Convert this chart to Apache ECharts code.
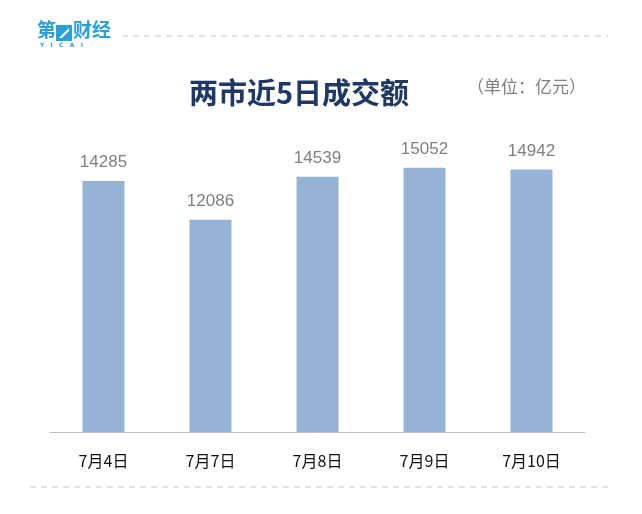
<!DOCTYPE html>
<html>
<head>
<meta charset="utf-8">
<script src="https://cdn.jsdelivr.net/npm/echarts@6/dist/echarts.min.js"></script>
<style>html,body{margin:0;padding:0;background:#fff;}#c{width:642px;height:514px;}</style>
</head>
<body>
<div id="c"></div>
<script>
const categories = ['7月4日', '7月7日', '7月8日', '7月9日', '7月10日'];
const values = [14285, 12086, 14539, 15052, 14942];
const titleText = '两市近5日成交额';
const unitText = '（单位：亿元）';

const chart = echarts.init(document.getElementById('c'));
const logoBlue = '#2a9fd8';
chart.setOption({
  backgroundColor: '#fff',
  animation: false,
  grid: { left: 50, right: 57, top: 151, bottom: 82 },
  xAxis: {
    type: 'category',
    data: categories,
    axisLine: { show: true, lineStyle: { color: '#bfbfbf', width: 1 } },
    axisTick: { show: false },
    axisLabel: { color: '#111', fontSize: 16, margin: 21, fontFamily: 'Noto Sans CJK SC' }
  },
  yAxis: {
    type: 'value', min: 0, max: 16000, interval: 4000,
    show: false, splitLine: { show: false }
  },
  series: [{
    type: 'bar',
    data: values,
    barWidth: 42,
    itemStyle: { color: '#95b3d7' },
    label: { show: true, position: 'top', distance: 10, color: '#7f7f7f', fontSize: 17, fontFamily: 'Liberation Sans' }
  }],
  graphic: [
    { type: 'text', left: 189, top: 78, style: { text: titleText, fill: '#1f3864', font: 'bold 29px "Noto Sans CJK SC"' } },
    { type: 'text', left: 467, top: 78, style: { text: unitText, fill: '#7f7f7f', font: '17px "Noto Sans CJK SC"' } },
    { type: 'text', left: 37, top: 20, style: { text: '第', fill: logoBlue, font: 'bold 19px "Noto Sans CJK SC"' } },
    { type: 'rect', shape: { x: 56, y: 25, width: 16, height: 16 }, style: { fill: logoBlue } },
    { type: 'polygon', shape: { points: [[59, 38], [69, 28], [69, 31], [62, 38]] }, style: { fill: '#fff' } },
    { type: 'text', left: 73, top: 20, style: { text: '财经', fill: logoBlue, font: 'bold 19px "Noto Sans CJK SC"' } },
    { type: 'text', left: 40, top: 42, style: { text: 'Y   I   C   A   I', fill: logoBlue, font: 'bold 6px "DejaVu Sans"' } },
    { type: 'line', shape: { x1: 122, y1: 36, x2: 608, y2: 36 }, style: { stroke: '#c8c8c8', lineWidth: 1, lineDash: [6, 5] } },
    { type: 'line', shape: { x1: 30, y1: 487, x2: 610, y2: 487 }, style: { stroke: '#c8c8c8', lineWidth: 1, lineDash: [6, 5] } }
  ]
});
</script>
</body>
</html>
